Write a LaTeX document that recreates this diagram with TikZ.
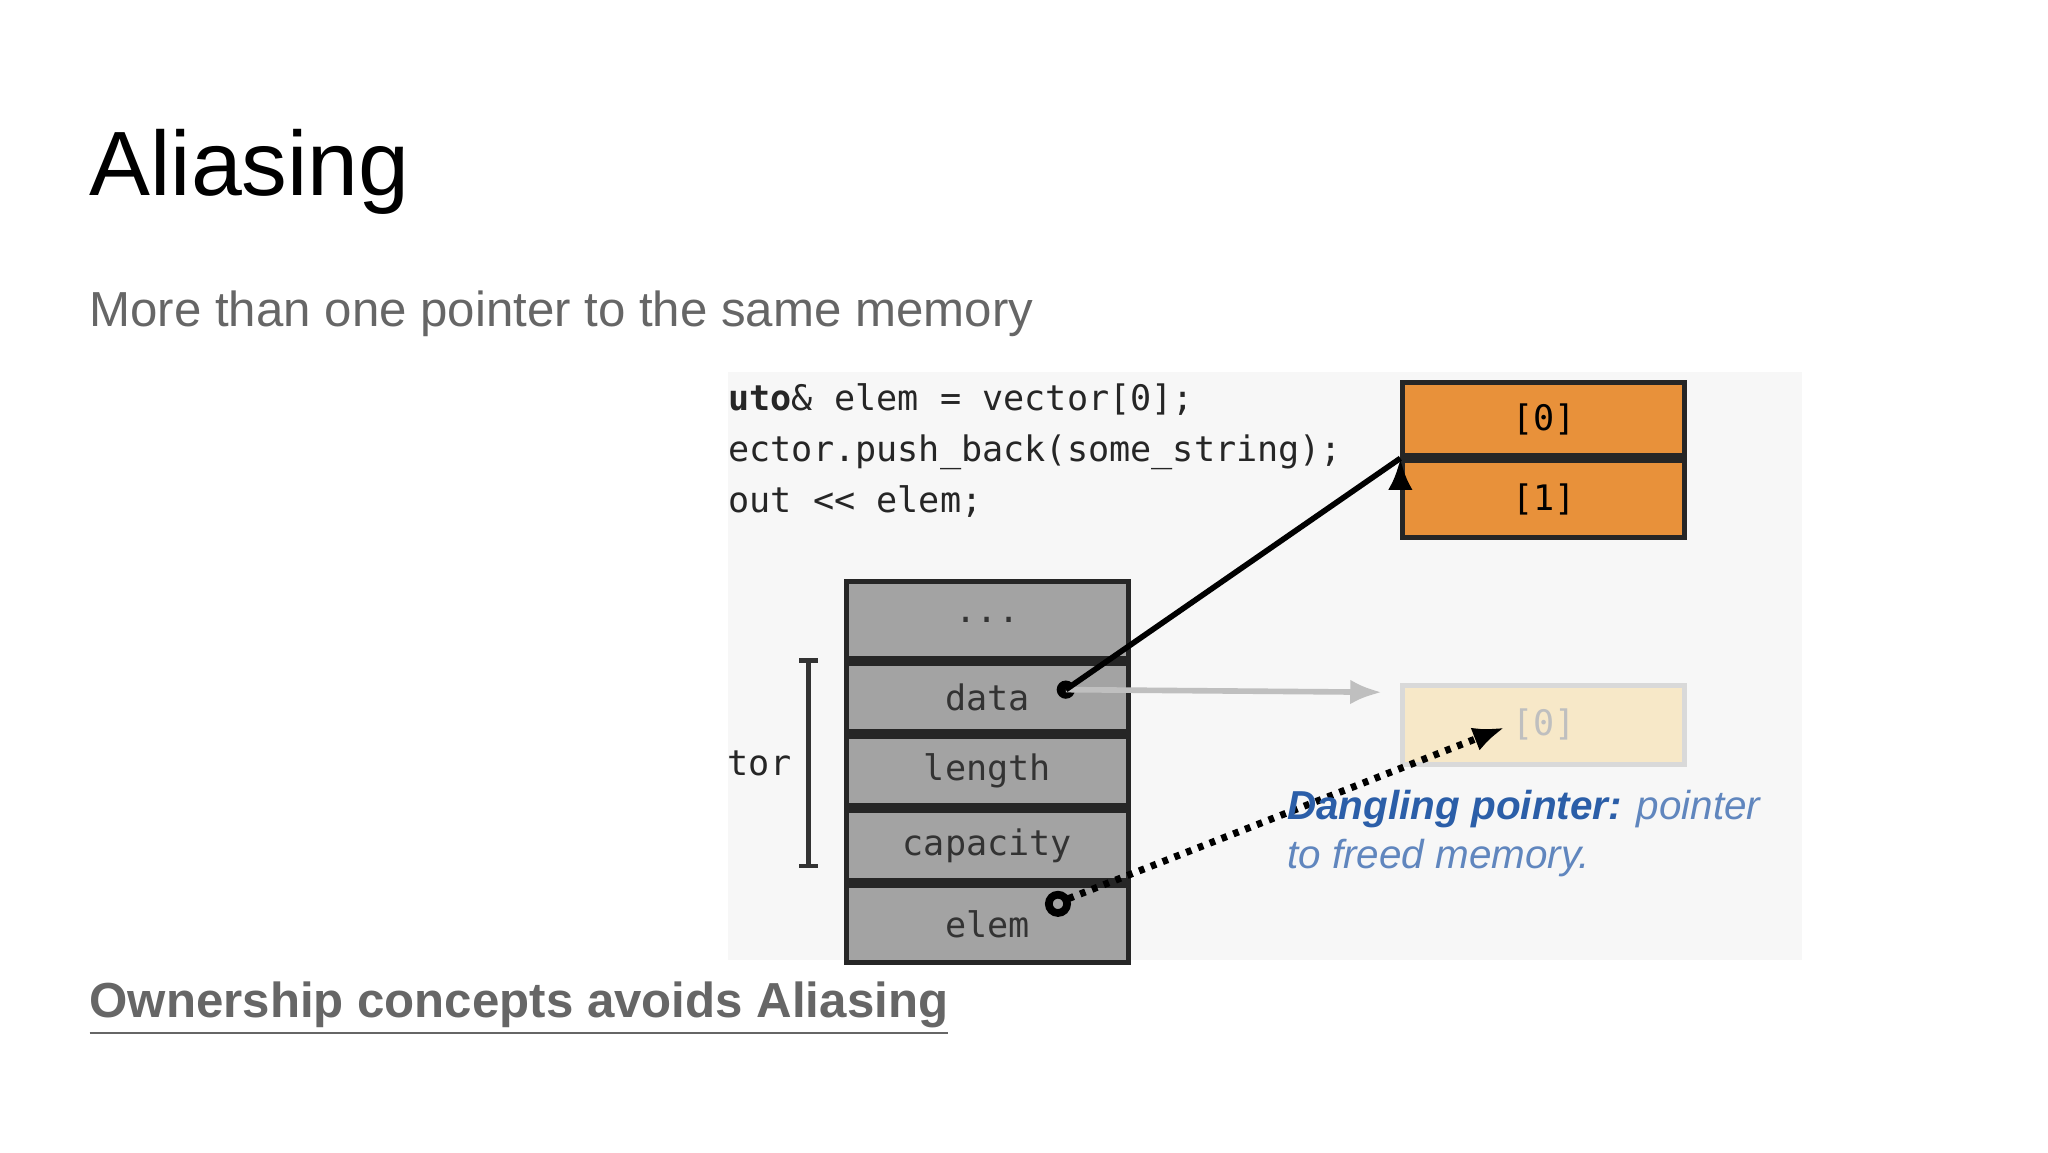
\documentclass[tikz,border=0pt]{standalone}
\usepackage{fontspec}
\setmainfont{Liberation Sans}
\setmonofont{DejaVu Sans Mono}
\usetikzlibrary{arrows.meta,positioning}
\definecolor{slidegray}{HTML}{666666}
\definecolor{cellgray}{HTML}{A3A3A3}
\definecolor{arrorange}{HTML}{E8913A}
\definecolor{freed}{HTML}{F7E8C8}
\definecolor{dangblue}{HTML}{2B5EA8}
\definecolor{panel}{HTML}{F7F7F7}
\tikzset{
  cell/.style={draw=black!85, line width=1.4pt, fill=cellgray, minimum width=216\unitx,
    font=\ttfamily\fontsize{10}{12}\selectfont, text=black!80, inner sep=0pt},
  slot/.style={draw=black!85, line width=1.4pt, fill=arrorange, minimum width=216\unitx,
    font=\ttfamily\fontsize{10}{12}\selectfont, inner sep=0pt},
  code/.style={anchor=base west, font=\ttfamily\fontsize{10}{12}\selectfont, text=black!85, inner sep=0pt},
  ptr/.style={-{Latex[length=9pt,width=7pt]}, line width=1.6pt},
}
\newlength{\unitx}\setlength{\unitx}{0.1306mm}
\begin{document}
\begin{tikzpicture}[x=\unitx, y=-\unitx]
  \useasboundingbox[fill=white] (0,0) rectangle (1568,882);
  % slide texts
  \node[anchor=base west, inner sep=0pt, font=\fontsize{26}{30}\selectfont] (title) at (68,150) {Aliasing};
  \node[anchor=base west, inner sep=0pt, text=slidegray, font=\fontsize{14}{17}\selectfont] (sub) at (68,250) {More than one pointer to the same memory};
  \node[anchor=base west, inner sep=0pt, text=slidegray, font=\bfseries\fontsize{14}{17}\selectfont] (own) at (68,779) {\underline{Ownership concepts avoids Aliasing}};
  % picture panel
  \fill[panel] (557,285) rectangle (1380,735);
  \begin{scope}
    \clip (557,285) rectangle (1380,735);
    \node[code] (l1) at (541,314) {\textbf{auto}\& elem = vector[0];};
    \node[code] (l2) at (541,353) {vector.push\_back(some\_string);};
    \node[code] (l3) at (541,392) {cout << elem;};
    \node[code] (vec) at (508,594) {vector};
  \end{scope}
  % stack
  \node[cell, minimum height=59\unitx] (dots) at (756,474.5) {...};
  \node[cell, minimum height=52\unitx, below=0pt of dots] (data) {data};
  \node[cell, minimum height=53\unitx, below=0pt of data] (length) {length};
  \node[cell, minimum height=54\unitx, below=0pt of length] (capacity) {capacity};
  \node[cell, minimum height=59\unitx, below=0pt of capacity] (elem) {elem\hspace{28\unitx}};
  \draw[line width=1.4pt, black!80] (612,506) -- (626,506) (619,506) -- (619,663) (612,663) -- (626,663);
  % heap blocks
  \node[slot, minimum height=56\unitx] (s0) at (1182,321) {[0]};
  \node[slot, minimum height=59\unitx, below=0pt of s0] (s1) {[1]};
  \node[draw=black!15, line width=1.4pt, fill=freed, minimum width=216\unitx, minimum height=60\unitx,
        text=black!25, font=\ttfamily\fontsize{10}{12}\selectfont] (old) at (1182,555) {[0]};
  % pointers
  \fill (816,528) circle (7\unitx) coordinate (pd);
  \draw[line width=2.2pt] (810,692) circle (7\unitx);
  \coordinate (pe) at (818,688);
  \draw[ptr, black!25] (pd) -- (1058,530);
  \draw[ptr] (pd) -- (s1.north west) ++(0,0);
  \draw[ptr, dotted, line width=2pt] (pe) -- (1152,557);
  % caption
  \node[anchor=base west, inner sep=0pt, align=left, text=dangblue, font=\itshape\fontsize{11.5}{15}\selectfont] (cap) at (985,665)
    {\textbf{Dangling pointer:} \color{dangblue!75}pointer\\[-1pt]\color{dangblue!75}to freed memory.};
\end{tikzpicture}
\end{document}
